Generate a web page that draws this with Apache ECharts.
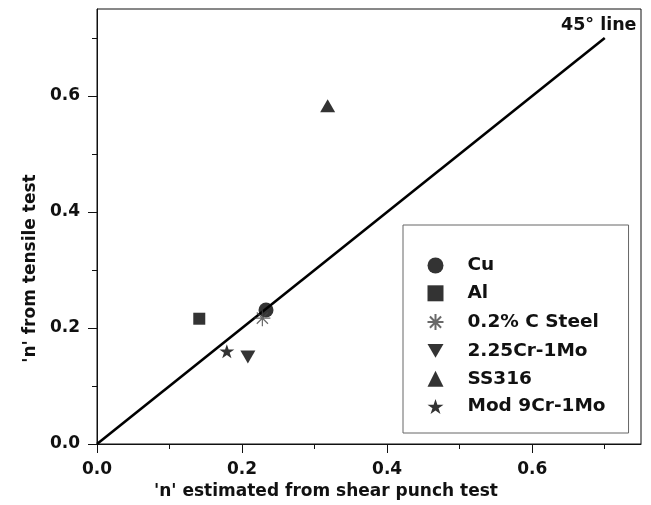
<!DOCTYPE html>
<html>
<head>
<meta charset="UTF-8" />
<script src="https://cdn.jsdelivr.net/npm/echarts@6/dist/echarts.min.js"></script>
<style>
  html, body { margin: 0; padding: 0; background: #fff; }
  #main { width: 651px; height: 505px; }
</style>
</head>
<body>
<div id="main"></div>
<script>
  // materials and their strain hardening exponents
  const materials = ['Cu', 'Al', '0.2% C Steel', '2.25Cr-1Mo', 'SS316', 'Mod 9Cr-1Mo'];
  const shearN   = [0.233, 0.141, 0.228, 0.208, 0.318, 0.179];
  const tensileN = [0.231, 0.216, 0.217, 0.150, 0.583, 0.160];
  const refLine  = [[0, 0], [0.7, 0.7]];

  const majorTicks = [0, 0.2, 0.4, 0.6];
  const minorTicks = [0.1, 0.3, 0.5, 0.7];

  const starPath = 'path://M0,-100L22.5,-30.9L95.1,-30.9L36.3,11.8L58.8,80.9L0,38.2L-58.8,80.9L-36.3,11.8L-95.1,-30.9L-22.5,-30.9Z';
  const asteriskPath = 'path://M0,-10L0,10M-10,0L10,0M-7,-7L7,7M-7,7L7,-7';
  const downTriPath = 'path://M0,0L10,0L5,8.7Z';

  const marks = [
    { symbol: 'circle', size: 15 },
    { symbol: 'rect', size: 12 },
    { symbol: asteriskPath, size: 16, hollow: true },
    { symbol: downTriPath, size: [15, 13] },
    { symbol: 'triangle', size: [15, 13] },
    { symbol: starPath, size: [15, 14] }
  ];

  const font = 'DejaVu Sans';
  const chart = echarts.init(document.getElementById('main'));

  const mkAxis = (name, pos, minor) => {
    const ax = {
      type: 'value', min: 0, max: 0.75, position: pos,
      splitLine: { show: false },
      axisLine: { show: !minor, onZero: false, lineStyle: { color: '#111', width: 1 } },
      axisTick: {
        show: true, inside: false, length: minor ? 5 : 9,
        customValues: minor ? minorTicks : majorTicks,
        lineStyle: { color: '#111', width: 1 }
      },
      axisLabel: minor ? { show: false } : {
        show: true, customValues: majorTicks,
        formatter: v => v.toFixed(1),
        fontFamily: font, fontWeight: 'bold', fontSize: 17, color: '#111'
      }
    };
    if (!minor) ax.name = name;
    return ax;
  };

  const xMain = mkAxis("'n' estimated from shear punch test", 'bottom', false);
  xMain.nameLocation = 'middle';
  xMain.nameGap = 37;
  xMain.nameTextStyle = { fontFamily: font, fontWeight: 'bold', fontSize: 17, color: '#111', padding: [0, 86, 0, 0] };
  xMain.axisLabel.margin = 17;

  const yMain = mkAxis("'n' from tensile test", 'left', false);
  yMain.nameLocation = 'middle';
  yMain.nameGap = 58;
  yMain.nameRotate = 90;
  yMain.nameTextStyle = { fontFamily: font, fontWeight: 'bold', fontSize: 17, color: '#111', padding: [0, 84, 0, 0] };
  yMain.axisLabel.margin = 17;

  const series = materials.map((m, i) => ({
    name: m,
    type: 'scatter',
    xAxisIndex: 0, yAxisIndex: 0,
    symbol: marks[i].symbol,
    symbolSize: marks[i].size,
    itemStyle: marks[i].hollow
      ? { color: 'none', borderColor: '#444', borderWidth: 1.2 }
      : { color: '#000' },
    data: [[shearN[i], tensileN[i]]],
    z: 3
  }));

  series.unshift({
    name: '45° line',
    type: 'line',
    xAxisIndex: 0, yAxisIndex: 0,
    symbol: 'circle', symbolSize: 0.1, showSymbol: true,
    lineStyle: { color: '#000', width: 2.6 },
    itemStyle: { color: '#000' },
    data: [
      refLine[0],
      { value: refLine[1], label: {
        show: true, position: 'top', offset: [-6, 2],
        formatter: '45° line',
        fontFamily: font, fontWeight: 'bold', fontSize: 17.5, color: '#111'
      } }
    ],
    z: 2
  });

  chart.setOption({
    animation: false,
    grid: {
      left: 97, right: 10, top: 9, bottom: 61,
      show: true, borderColor: '#111', borderWidth: 1, containLabel: false
    },
    xAxis: [xMain, mkAxis('', 'bottom', true)],
    yAxis: [yMain, mkAxis('', 'left', true)],
    legend: {
      data: materials,
      orient: 'vertical',
      left: 403, top: 225,
      padding: [31, 23, 17, 22],
      itemWidth: 16, itemHeight: 16, itemGap: 8.8,
      borderColor: '#666', borderWidth: 1,
      backgroundColor: '#fff',
      textStyle: { fontFamily: font, fontWeight: 'bold', fontSize: 18.5, lineHeight: 16, color: '#111', padding: [0, 0, 0, 19] }
    },
    series: series
  });
</script>
</body>
</html>
